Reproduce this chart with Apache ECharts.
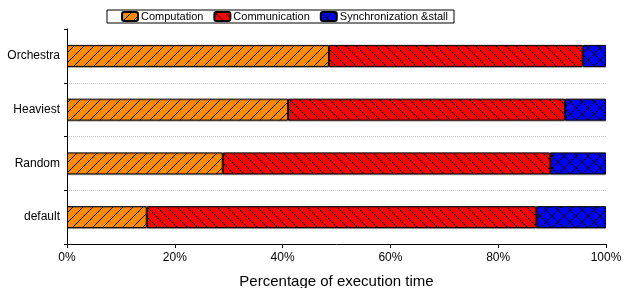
<!DOCTYPE html>
<html style="height: 100%">
<head>
    <meta charset="utf-8">
    <title>execution time</title>
    <script type="text/javascript" src="https://cdn.jsdelivr.net/npm/echarts@6/dist/echarts.min.js"></script>
    <style>
        html, body { margin: 0; padding: 0; background: #fff; }
        #main { width: 633px; height: 288px; }
    </style>
</head>
<body>
<div id="main"></div>
<script type="text/javascript">
    // bottom to top
    var categories = ['default', 'Random', 'Heaviest', 'Orchestra'];
    var computation = [14.8, 28.9, 41.0, 48.6];
    var communication = [72.2, 60.7, 51.4, 47.1];
    var syncStall = [13.0, 10.4, 7.6, 4.3];
    var xTicks = [0, 20, 40, 60, 80, 100];

    // hatched fill tiles
    function hatch(bg, kind, size) {
        var c = document.createElement('canvas');
        c.width = size;
        c.height = size;
        var ctx = c.getContext('2d');
        ctx.fillStyle = bg;
        ctx.fillRect(0, 0, size, size);
        ctx.strokeStyle = '#000';
        ctx.lineWidth = 1;
        if (kind === 'fwd' || kind === 'cross') {
            ctx.beginPath();
            ctx.moveTo(-1, size + 1); ctx.lineTo(size + 1, -1);
            ctx.stroke();
        }
        if (kind === 'back' || kind === 'cross') {
            ctx.beginPath();
            ctx.moveTo(-1, -1); ctx.lineTo(size + 1, size + 1);
            ctx.stroke();
        }
        return { image: c, repeat: 'repeat' };
    }

    var chart = echarts.init(document.getElementById('main'));

    function barItem(fill) {
        return {
            color: fill,
            borderColor: '#000',
            borderWidth: 1,
            shadowColor: 'rgba(0,0,0,0.25)',
            shadowOffsetY: 1,
            shadowBlur: 0
        };
    }

    var option = {
        animation: false,
        textStyle: { fontFamily: 'Liberation Sans, Arial, sans-serif' },
        legend: {
            left: 107,
            top: 10,
            padding: [1, 6, 1, 14],
            itemGap: 10,
            itemWidth: 16,
            itemHeight: 9,
            borderColor: '#000',
            borderWidth: 1,
            textStyle: { fontSize: 11, color: '#000', padding: [0, 0, 0, -2] },
            data: ['Computation', 'Communication', 'Synchronization &stall']
        },
        grid: { left: 67, right: 27, top: 29, bottom: 44, outerBoundsMode: 'none' },
        xAxis: {
            type: 'value',
            min: 0,
            max: 100,
            interval: 20,
            name: 'Percentage of execution time',
            nameLocation: 'middle',
            nameGap: 30,
            nameTextStyle: { fontSize: 15, color: '#000' },
            axisLine: { show: true, lineStyle: { color: '#000', width: 1 } },
            axisTick: { show: true, length: 4, lineStyle: { color: '#000' } },
            axisLabel: {
                fontSize: 12,
                color: '#000',
                margin: 8,
                formatter: function (v) { return xTicks.indexOf(v) >= 0 ? v + '%' : ''; }
            },
            splitLine: { show: false }
        },
        yAxis: {
            type: 'category',
            data: categories,
            axisLine: { show: true, lineStyle: { color: '#000', width: 1 } },
            axisTick: { show: true, length: 3, lineStyle: { color: '#000' } },
            axisLabel: { fontSize: 12, color: '#000', margin: 7 },
            splitLine: {
                show: true,
                showMinLine: false,
                showMaxLine: false,
                lineStyle: { color: '#c8c8c8', type: [1, 1], width: 1 }
            }
        },
        series: [{
            name: 'Computation',
            type: 'bar',
            stack: 'total',
            barWidth: 22,
            itemStyle: barItem(hatch('#ff8c00', 'fwd', 10)),
            data: computation
        }, {
            name: 'Communication',
            type: 'bar',
            stack: 'total',
            barWidth: 22,
            itemStyle: barItem(hatch('#ff0000', 'back', 10)),
            data: communication
        }, {
            name: 'Synchronization &stall',
            type: 'bar',
            stack: 'total',
            barWidth: 22,
            itemStyle: barItem(hatch('#0000ff', 'cross', 12)),
            data: syncStall
        }]
    };

    chart.setOption(option);
</script>
</body>
</html>
